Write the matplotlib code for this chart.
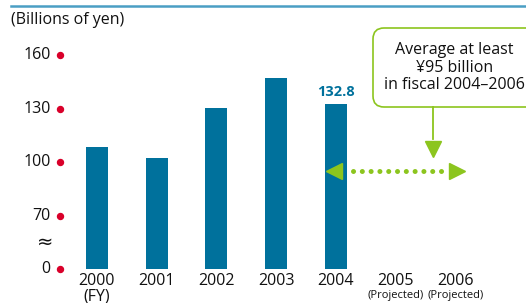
import matplotlib
matplotlib.use("Agg")
import matplotlib.pyplot as plt
from matplotlib.patches import FancyBboxPatch

plt.rcParams["font.family"] = ["Open Sans", "DejaVu Sans"]

# data
years = ["2000", "2001", "2002", "2003", "2004", "2005", "2006"]
sub_labels = ["(FY)", "", "", "", "", "(Projected)", "(Projected)"]
values = [108.3, 102.6, 130.2, 147.0, 132.8]
target = 95
ytick_vals = [160, 130, 100, 70, 0]

BASE = 40  # axis is broken between 0 and 70; zero sits at 40
BLUE = "#00719c"
GREEN = "#8cc51e"
RED = "#d9002a"
INK = "#111111"

W, H = 526, 303
fig = plt.figure(figsize=(W / 100, H / 100), dpi=100)

# axes placed so bar centres / ticks fall where the original has them
px_left, px_right = 66.9, 485.5
px_bottom, px_top = 269.3, 55.0
ax = fig.add_axes([px_left / W, (H - px_bottom) / H,
                   (px_right - px_left) / W, (px_bottom - px_top) / H])
ax.set_xlim(-0.5, 6.5)
ax.set_ylim(BASE, 160)
ax.axis("off")

x = list(range(len(values)))
ax.bar(x, [v - BASE for v in values], bottom=BASE, width=0.37, color=BLUE)
ax.text(x[-1], values[-1] + 2.5, f"{values[-1]:.1f}", ha="center", va="bottom",
        color=BLUE, fontsize=10.5, fontweight="bold")

# y ticks: labels with red dots
for v in ytick_vals:
    yp = v if v >= 70 else BASE
    ax.text(-0.77, yp, str(v), ha="right", va="center", fontsize=11.5, color=INK)
    ax.plot(-0.615, yp, "o", color=RED, markersize=4.3, clip_on=False)
ax.text(-0.87, 55, "\u2248", ha="center", va="center", fontsize=14,
        color=INK, family="DejaVu Sans")

# x labels
for i, (yr, sub) in enumerate(zip(years, sub_labels)):
    ax.text(i, BASE - 2.0, yr, ha="center", va="top", fontsize=11.5, color=INK)
    if sub == "(FY)":
        ax.text(i, BASE - 10.6, sub, ha="center", va="top", fontsize=11.5, color=INK)
    elif sub:
        ax.text(i, BASE - 11.8, sub, ha="center", va="top", fontsize=8, color=INK)

# dotted double arrow at the target level
ax.plot([4.28, 5.86], [target, target], color=GREEN, lw=3.6,
        linestyle=(0, (0.01, 1.75)), dash_capstyle="round", clip_on=False)
ax.plot(3.97, target, marker="<", color=GREEN, markersize=12, clip_on=False)
ax.plot(6.02, target, marker=">", color=GREEN, markersize=12, clip_on=False)

# callout box (figure inches so the corners stay round), drawn under the axes
box = FancyBboxPatch((3.73, 1.96), 1.70, 0.79,
                     boxstyle="round,pad=0,rounding_size=0.11",
                     transform=fig.dpi_scale_trans,
                     fc="white", ec=GREEN, lw=1.2, clip_on=False, zorder=-1)
fig.add_artist(box)
ax.plot([5.62, 5.62], [130.9, 113], color=GREEN, lw=1.3, clip_on=False)
ax.plot(5.62, 107.5, marker="v", color=GREEN, markersize=11, clip_on=False)
ax.text(5.985, 153.0, "Average at least\n\u00a595 billion\nin fiscal 2004\u20132006",
        ha="center", va="center", fontsize=11.5, color=INK, linespacing=1.13)

# headers
fig.add_artist(plt.Line2D([11 / W, 1], [1 - 5.8 / H, 1 - 5.8 / H],
                          color="#4a9ec4", lw=1.8))
fig.text(11 / W, 1 - 20 / H, "(Billions of yen)", ha="left", va="center",
         fontsize=11.5, color=INK)

fig.savefig("out.png", dpi=100)
